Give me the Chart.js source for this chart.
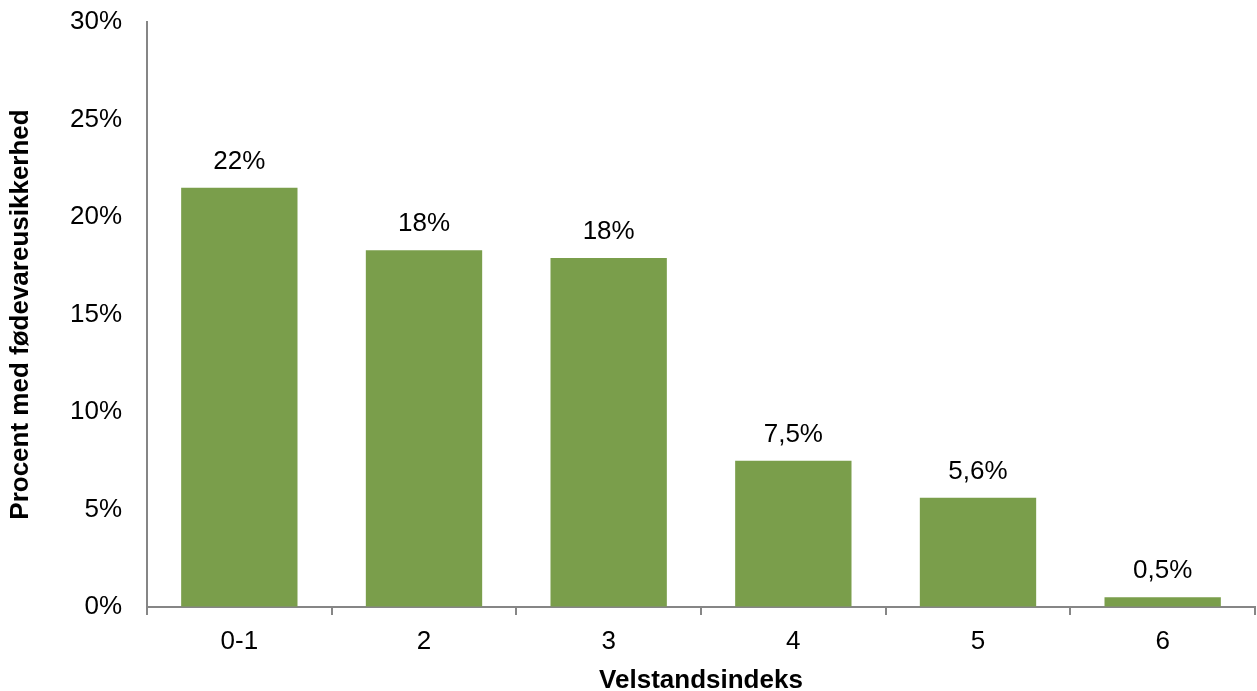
<!DOCTYPE html>
<html>
<head>
<meta charset="utf-8">
<script src="https://cdn.jsdelivr.net/npm/chart.js@4.4.1/dist/chart.umd.min.js"></script>
<style>
  html, body { margin: 0; padding: 0; background: #fff; }
  #wrap { width: 1257px; height: 691px; }
</style>
</head>
<body>
<div id="wrap"><canvas id="chart" width="1257" height="691"></canvas></div>
<script>
const categories = ['0-1', '2', '3', '4', '5', '6'];
const values = [21.5, 18.3, 17.9, 7.5, 5.6, 0.5];
const valueLabels = ['22%', '18%', '18%', '7,5%', '5,6%', '0,5%'];
const yTicks = [0, 5, 10, 15, 20, 25, 30];

const FONT = "'Liberation Sans', Arial, sans-serif";

// draws the value text above each bar
const barLabels = {
  id: 'barLabels',
  afterDatasetsDraw(chart) {
    const ctx = chart.ctx;
    const meta = chart.getDatasetMeta(0);
    ctx.save();
    ctx.font = `26px ${FONT}`;
    ctx.fillStyle = '#000';
    ctx.textAlign = 'center';
    ctx.textBaseline = 'middle';
    meta.data.forEach((bar, i) => {
      ctx.fillText(valueLabels[i], bar.x, bar.y - 26);
    });
    ctx.restore();
  }
};

new Chart(document.getElementById('chart'), {
  type: 'bar',
  data: {
    labels: categories,
    datasets: [{
      data: values,
      backgroundColor: '#7a9e4b',
      borderWidth: 0,
      barPercentage: 0.63,
      categoryPercentage: 1
    }]
  },
  options: {
    responsive: false,
    animation: false,
    layout: { padding: { top: 22, right: 2, left: 0, bottom: 0 } },
    plugins: {
      legend: { display: false },
      tooltip: { enabled: false }
    },
    scales: {
      x: {
        grid: {
          display: true,
          drawOnChartArea: false,
          drawTicks: true,
          tickLength: 8,
          color: '#868686',
          lineWidth: 2,
          offset: true
        },
        border: { display: true, color: '#868686', width: 2 },
        ticks: { color: '#000', font: { family: FONT, size: 26 }, padding: 11 },
        title: {
          display: true,
          text: 'Velstandsindeks',
          color: '#000',
          font: { family: FONT, size: 26, weight: 'bold' },
          padding: { top: 10, bottom: -5 }
        },
        afterFit: s => { s.height = 84; s.paddingLeft = 0; s.paddingRight = 0; }
      },
      y: {
        min: 0,
        max: 30,
        afterBuildTicks: s => { s.ticks = yTicks.map(v => ({ value: v })); },
        grid: { display: true, drawOnChartArea: false, drawTicks: false },
        border: { display: true, color: '#868686', width: 2 },
        ticks: {
          color: '#000',
          font: { family: FONT, size: 26 },
          padding: 25,
          callback: v => v + '%'
        },
        title: {
          display: true,
          text: 'Procent med fødevareusikkerhed',
          color: '#000',
          font: { family: FONT, size: 26, weight: 'bold' },
          padding: { top: 5, bottom: 0 }
        },
        afterFit: s => { s.width = 147; s.paddingTop = 0; s.paddingBottom = 0; }
      }
    }
  },
  plugins: [barLabels]
});
</script>
</body>
</html>
